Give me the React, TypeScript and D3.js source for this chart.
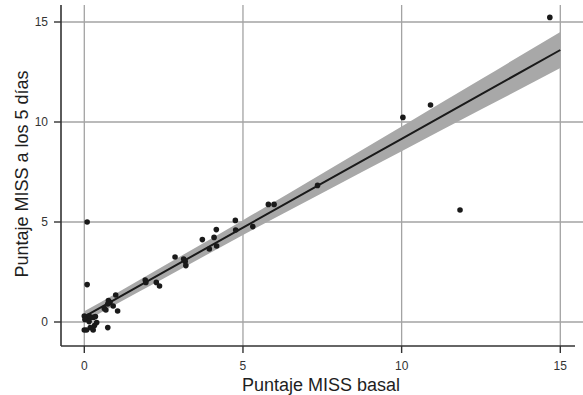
import React, { useEffect, useRef } from 'react';
import * as d3 from 'd3';

// Puntaje MISS basal (x) vs a los 5 días (y)
const basal = [
  0.09, 0.09, 0.0, 0.07, 0.15, 0.02, 0.2, 0.15, 0.28, 0.35, 0.39, 0.32, 0.19, 0.28, 0.0, 0.07, 0.74,
  0.63, 0.68, 0.76, 0.81, 0.74, 0.91, 0.99, 1.05,
  1.92, 1.94, 2.27, 2.37, 2.86, 3.13, 3.18, 3.2, 3.72, 3.94, 4.09, 4.16, 4.17, 4.76, 4.77, 5.31,
  5.8, 5.98, 7.35, 10.04, 10.91, 11.84, 14.67,
];
const dia5 = [
  5.0, 1.87, 0.3, 0.23, 0.3, 0.13, 0.23, 0.02, 0.23, 0.27, -0.03, -0.18, -0.28, -0.4, -0.4, -0.4, -0.28,
  0.68, 0.6, 1.07, 0.98, 0.9, 0.8, 1.35, 0.55,
  2.1, 1.98, 1.98, 1.8, 3.25, 3.15, 3.03, 2.82, 4.12, 3.65, 4.23, 4.62, 3.8, 5.08, 4.6, 4.77,
  5.88, 5.88, 6.83, 10.23, 10.85, 5.6, 15.23,
];

// fitted line with confidence band
const fitX = [0, 1, 2.5, 5, 7.5, 10, 12.5, 15];
const fitY = [0.27, 1.16, 2.49, 4.72, 6.94, 9.16, 11.38, 13.6];
const fitLo = [0.0, 0.89, 2.18, 4.35, 6.45, 8.54, 10.62, 12.7];
const fitHi = [0.54, 1.43, 2.8, 5.09, 7.43, 9.78, 12.14, 14.5];

const ticks = [0, 5, 10, 15];

const W = 583;
const H = 395;
const left = 61, right = 575, top = 5, bottom = 346;

const App = () => {
  const ref = useRef<SVGSVGElement>(null);

  useEffect(() => {
    const svg = d3.select(ref.current);
    svg.selectAll('*').remove();

    const x = d3.scaleLinear().domain([0, 15]).range([84.3, 560.3]);
    const y = d3.scaleLinear().domain([0, 15]).range([322, 22]);
    const font = '"Liberation Sans", Arial, Helvetica, sans-serif';

    // grid
    svg.append('g').selectAll('line.v').data(ticks).join('line')
      .attr('x1', d => x(d)).attr('x2', d => x(d))
      .attr('y1', top).attr('y2', bottom)
      .attr('stroke', '#a3a3a3').attr('stroke-width', 1.3);
    svg.append('g').selectAll('line.h').data(ticks).join('line')
      .attr('x1', left).attr('x2', W)
      .attr('y1', d => y(d)).attr('y2', d => y(d))
      .attr('stroke', '#a3a3a3').attr('stroke-width', 1.3);

    // band
    const area = d3.area<number>()
      .x((d, i) => x(fitX[i]))
      .y0((d, i) => y(fitLo[i]))
      .y1((d, i) => y(fitHi[i]))
      .curve(d3.curveMonotoneX);
    svg.append('path').datum(fitX).attr('d', area).attr('fill', '#a8a8a8');

    // fit line
    const line = d3.line<number>()
      .x((d, i) => x(fitX[i]))
      .y((d, i) => y(fitY[i]));
    svg.append('path').datum(fitX).attr('d', line)
      .attr('fill', 'none').attr('stroke', '#1a1a1a').attr('stroke-width', 2);

    // points
    svg.append('g').selectAll('circle').data(basal).join('circle')
      .attr('cx', d => x(d))
      .attr('cy', (d, i) => y(dia5[i]))
      .attr('r', 2.8)
      .attr('fill', '#1a1a1a');

    // axes
    svg.append('line').attr('x1', left).attr('x2', left).attr('y1', top).attr('y2', bottom)
      .attr('stroke', '#333').attr('stroke-width', 1.6);
    svg.append('line').attr('x1', left).attr('x2', right).attr('y1', bottom).attr('y2', bottom)
      .attr('stroke', '#333').attr('stroke-width', 1.6);

    // y ticks
    const yt = svg.append('g');
    yt.selectAll('line').data(ticks).join('line')
      .attr('x1', left - 7).attr('x2', left)
      .attr('y1', d => y(d)).attr('y2', d => y(d))
      .attr('stroke', '#333').attr('stroke-width', 1.4);
    yt.selectAll('text').data(ticks).join('text')
      .attr('x', left - 13).attr('y', d => y(d))
      .attr('dy', '0.35em')
      .attr('text-anchor', 'end')
      .attr('font-family', font).attr('font-size', 12).attr('fill', '#333')
      .text(d => d);

    // x ticks
    const xt = svg.append('g');
    xt.selectAll('line').data(ticks).join('line')
      .attr('x1', d => x(d)).attr('x2', d => x(d))
      .attr('y1', bottom).attr('y2', bottom + 7)
      .attr('stroke', '#333').attr('stroke-width', 1.4);
    xt.selectAll('text').data(ticks).join('text')
      .attr('x', d => x(d)).attr('y', 370)
      .attr('text-anchor', 'middle')
      .attr('font-family', font).attr('font-size', 12).attr('fill', '#333')
      .text(d => d);

    // titles
    svg.append('text')
      .attr('x', 321).attr('y', 391)
      .attr('text-anchor', 'middle')
      .attr('font-family', font).attr('font-size', 18).attr('fill', '#1e1e1e')
      .text('Puntaje MISS basal');
    svg.append('text')
      .attr('transform', `translate(28, 174) rotate(-90)`)
      .attr('text-anchor', 'middle')
      .attr('font-family', font).attr('font-size', 18).attr('fill', '#1e1e1e')
      .text('Puntaje MISS a los 5 días');
  }, []);

  return (
    <svg ref={ref} width={W} height={H} style={{ position: 'absolute', left: 0, top: 0 }}></svg>
  );
};

export default App;
